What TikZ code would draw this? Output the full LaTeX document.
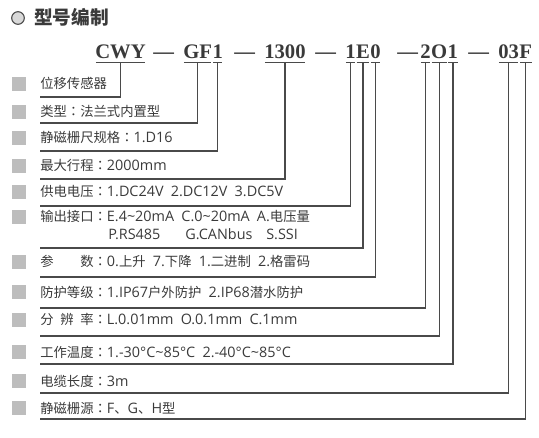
\documentclass[tikz,border=0pt]{standalone}
\usepackage{fontspec}
\setmainfont{Open Sans}[Scale=1.08]
\newfontfamily\cjk{Noto Sans CJK SC}
\newfontfamily\jp{Noto Sans CJK JP}
\newfontfamily\codefont{Liberation Serif}
\usetikzlibrary{calc}
\definecolor{txt}{HTML}{3A3A3A}
\definecolor{ln}{HTML}{4A4A4A}
\definecolor{sq}{HTML}{BDBDBD}
\definecolor{circ}{HTML}{D9D9D9}
\newcommand\tld{\char"7E\relax}
\newcommand\gp{\hspace{0.5em}}
\newcommand\cl{{\jp ：}}
\newcommand\C[1]{{\cjk #1}}
\begin{document}
\begin{tikzpicture}[x=0.75pt,y=-0.75pt,
  code/.style={font=\codefont\bfseries\fontsize{15.5}{16}\selectfont, inner sep=0pt, anchor=base west, text=txt},
  lbl/.style={font=\fontsize{10}{12}\selectfont, inner sep=0pt, anchor=base west, text=txt},
  bullet/.style={fill=sq, minimum size=10.5pt, inner sep=0pt},
  conn/.style={draw=ln, line width=0.9pt},
  ul/.style={draw=ln, line width=0.9pt}]
\useasboundingbox (0,0) rectangle (539,438);
% title
\node[circle, draw=ln, fill=circ, line width=0.8pt, minimum size=9.5pt, inner sep=0pt] (tc) at (18,18) {};
\node[font=\cjk\bfseries\fontsize{14}{15}\selectfont, anchor=west, inner sep=0pt, text=txt] (title) at (34,17) {型号编制};
% code line
\coordinate (ul) at (0,62.5);
\node[code] (cwy) at (95,59) {CWY};
\node[code] (d1) at (153,59) {—};
\node[code] (gf) at (183,59) {GF};
\node[code] (g1) at (gf.base east) {1};
\node[code] (d2) at (234,59) {—};
\node[code] (n13) at (264,59) {1300};
\node[code] (d3) at (315,59) {—};
\node[code] (e1) at (345,59) {1};
\node[code] (ee) at (e1.base east) {E};
\node[code] (e0) at (ee.base east) {0};
\node[code] (d4) at (397,59) {—};
\node[code] (o2) at (420,59) {2};
\node[code] (oo) at (o2.base east) {O};
\node[code] (o1) at (oo.base east) {1};
\node[code] (d5) at (468,59) {—};
\node[code] (f03) at (498,59) {03};
\node[code] (ff) at (f03.base east) {F};
\foreach \n in {cwy,gf,g1,n13,e1,ee,e0,o2,oo,o1,f03,ff}
  \draw[ul] ($(\n.base west |- ul)+(0.8,0)$) -- ($(\n.base east |- ul)+(-0.8,0)$);
% rows
\node[bullet] (b1) at (19,84) {};
\node[lbl] (t1) at (40,89) {\C{位移传感器}};
\coordinate (r1) at (40,97);
\node[bullet] (b2) at (19,112) {};
\node[lbl] (t2) at (40,117) {\C{类型}\cl\C{法兰式内置型}};
\coordinate (r2) at (40,123);
\node[bullet] (b3) at (19,138) {};
\node[lbl] (t3) at (40,143) {\C{静磁栅尺规格}\cl 1.D16};
\coordinate (r3) at (40,151);
\node[bullet] (b4) at (19,166) {};
\node[lbl] (t4) at (40,171) {\C{最大行程}\cl 2000mm};
\coordinate (r4) at (40,179);
\node[bullet] (b5) at (19,192) {};
\node[lbl] (t5) at (40,197) {\C{供电电压}\cl 1.DC24V\gp 2.DC12V\gp 3.DC5V};
\coordinate (r5) at (40,206);
\node[bullet] (b6) at (19,217) {};
\node[lbl] (t6) at (40,222) {\C{输出接口}\cl E.4\tld20mA\gp C.0\tld20mA\gp A.\C{电压量}};
\node[lbl] (t6a) at (108,240) {P.RS485};
\node[lbl] (t6b) at (185,240) {G.CANbus};
\node[lbl] (t6c) at (266,240) {S.SSI};
\coordinate (r6) at (40,248);
\node[bullet] (b7) at (19,262) {};
\node[lbl] (t7) at (40,267) {\C{参\hspace{2em}数}\cl 0.\C{上升}\gp 7.\C{下降}\gp 1.\C{二进制}\gp 2.\C{格雷码}};
\coordinate (r7) at (40,277);
\node[bullet] (b8) at (19,292) {};
\node[lbl] (t8) at (40,297) {\C{防护等级}\cl 1.IP67\C{户外防护}\gp 2.IP68\C{潜水防护}};
\coordinate (r8) at (40,308);
\node[bullet] (b9) at (19,320) {};
\node[lbl] (t9) at (40,325) {\C{分\hspace{0.5em}辨\hspace{0.5em}率}\cl L.0.01mm\gp O.0.1mm\gp C.1mm};
\coordinate (r9) at (40,336);
\node[bullet] (b10) at (19,352) {};
\node[lbl] (t10) at (40,357) {\C{工作温度}\cl 1.-30°C\tld85°C\gp 2.-40°C\tld85°C};
\coordinate (r10) at (40,364);
\node[bullet] (b11) at (19,381) {};
\node[lbl] (t11) at (40,386) {\C{电缆长度}\cl 3m};
\coordinate (r11) at (40,393);
\node[bullet] (b12) at (19,408) {};
\node[lbl] (t12) at (40,413) {\C{静磁栅源}\cl F\C{、}G\C{、}H\C{型}};
\coordinate (r12) at (40,419);
% connectors
\draw[conn] (cwy.base |- ul) |- (r1);
\draw[conn] (gf.base |- ul) |- (r2);
\draw[conn] (g1.base |- ul) |- (r3);
\draw[conn] (n13.base |- ul) |- (r4);
\draw[conn] (e1.base |- ul) |- (r5);
\draw[conn] (ee.base |- ul) |- (r6);
\draw[conn] (e0.base |- ul) |- (r7);
\draw[conn] (o2.base |- ul) |- (r8);
\draw[conn] (oo.base |- ul) |- (r9);
\draw[conn] (o1.base |- ul) |- (r10);
\draw[conn] (f03.base |- ul) |- (r11);
\draw[conn] (ff.base |- ul) |- (r12);
\end{tikzpicture}
\end{document}
